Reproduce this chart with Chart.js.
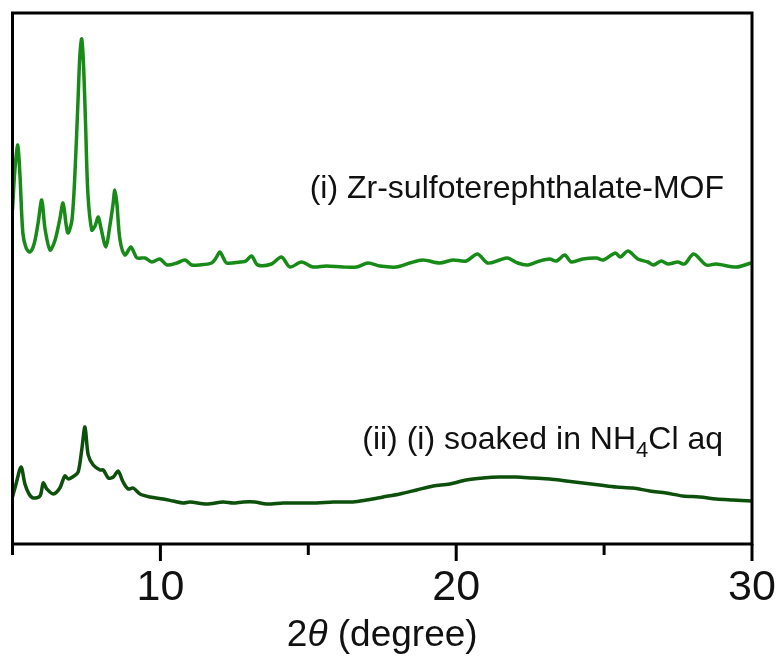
<!DOCTYPE html>
<html>
<head>
  <title>XRD patterns</title>
  <style>
      body {
          margin: 0;
          padding: 0;
          background: #ffffff;
      }
      #wrap {
          width: 780px;
          height: 661px;
      }
  </style>
</head>
<body>
  <div id="wrap"><canvas id="xrdChart" width="780" height="661"></canvas></div>
  <script src="https://cdn.jsdelivr.net/npm/chart.js"></script>
  <script>
      // 2theta (degree) and intensity (arb. units)
      const mofTheta = [5.00, 5.08, 5.18, 5.25, 5.35, 5.46, 5.59, 5.73, 5.86, 5.99, 6.10, 6.27, 6.44, 6.60, 6.71, 6.81, 6.88, 7.01, 7.11, 7.21, 7.28, 7.34, 7.40, 7.47, 7.55, 7.68, 7.79, 7.90, 7.99, 8.16, 8.29, 8.40, 8.46, 8.53, 8.63, 8.80, 9.00, 9.10, 9.21, 9.48, 9.71, 9.98, 10.22, 10.56, 10.83, 11.06, 11.33, 11.73, 11.88, 12.01, 12.13, 12.24, 12.69, 12.89, 13.08, 13.29, 13.76, 14.09, 14.38, 14.77, 15.15, 15.61, 16.17, 16.63, 17.02, 17.42, 17.98, 18.43, 18.87, 19.44, 19.88, 20.34, 20.72, 21.06, 21.47, 21.74, 22.08, 22.42, 22.82, 23.16, 23.39, 23.67, 23.89, 24.28, 24.74, 24.98, 25.38, 25.55, 25.81, 26.14, 26.48, 26.67, 26.93, 27.16, 27.49, 27.72, 28.03, 28.45, 28.79, 29.47, 29.97];
      const mofCounts = [334, 374, 399, 370, 311, 296, 292, 300, 320, 344, 315, 294, 304, 325, 341, 320, 311, 324, 370, 440, 490, 505, 480, 420, 350, 314, 318, 327, 316, 297, 318, 340, 354, 340, 305, 289, 297, 292, 286, 286, 282, 285, 279, 281, 284, 279, 279, 281, 286, 292, 286, 281, 282, 283, 288, 279, 280, 287, 277, 282, 277, 278, 277, 277, 281, 278, 277, 281, 284, 281, 284, 283, 290, 281, 284, 286, 281, 279, 283, 285, 283, 289, 282, 285, 286, 284, 291, 287, 293, 285, 282, 279, 283, 280, 282, 280, 290, 279, 280, 277, 281];

      const soakTheta = [5.00, 5.12, 5.29, 5.42, 5.56, 5.70, 5.93, 6.04, 6.16, 6.38, 6.60, 6.77, 6.89, 7.08, 7.22, 7.34, 7.45, 7.56, 7.73, 7.96, 8.07, 8.24, 8.41, 8.57, 8.74, 8.91, 9.08, 9.31, 9.65, 10.09, 10.43, 10.77, 11.00, 11.56, 12.12, 12.46, 12.80, 13.19, 13.59, 14.15, 14.71, 15.28, 15.84, 16.51, 16.97, 17.53, 18.09, 18.66, 19.22, 19.78, 20.34, 20.91, 21.47, 22.03, 22.59, 23.16, 23.72, 24.28, 24.85, 25.41, 25.97, 26.54, 27.10, 27.66, 28.23, 28.79, 29.35, 29.97];
      const soakCounts = [47, 60, 77, 60, 50, 46, 48, 61, 55, 50, 56, 68, 65, 68, 72, 94, 117, 89, 79, 74, 74, 66, 67, 73, 62, 55, 56, 50, 47, 45, 43, 41, 42, 40, 42, 41, 42, 42, 40, 41, 41, 41, 42, 42, 44, 47, 50, 54, 58, 60, 64, 66, 67, 67, 66, 65, 63, 61, 59, 57, 56, 53, 51, 48, 47, 45, 44, 43];

      const majorTicks = [10, 20, 30];
      const minorTicks = [5, 15, 25];

      function toPoints(xs, ys) {
          return xs.map((x, i) => ({ x: x, y: ys[i] }));
      }

      // frame, tick marks + labels, series labels and axis title
      const decorations = {
          id: 'decorations',
          afterDraw(chart) {
              const ctx = chart.ctx;
              const a = chart.chartArea;
              const xs = chart.scales.x;
              ctx.save();
              ctx.strokeStyle = '#000';
              ctx.lineWidth = 3;
              ctx.strokeRect(a.left, a.top, a.right - a.left, a.bottom - a.top);

              ctx.lineCap = 'butt';
              majorTicks.concat(minorTicks).forEach(v => {
                  const px = xs.getPixelForValue(v);
                  const len = majorTicks.includes(v) ? 17 : 11;
                  ctx.beginPath();
                  ctx.moveTo(px, a.bottom);
                  ctx.lineTo(px, a.bottom + len);
                  ctx.stroke();
              });

              ctx.fillStyle = '#111';
              ctx.textBaseline = 'alphabetic';
              ctx.textAlign = 'center';
              ctx.font = '43px "Liberation Sans", Arial, sans-serif';
              majorTicks.forEach(v => {
                  ctx.fillText(String(v), xs.getPixelForValue(v), 600);
              });

              ctx.font = '32px "Liberation Sans", Arial, sans-serif';
              ctx.textAlign = 'right';
              ctx.fillText('(i) Zr-sulfoterephthalate-MOF', 724, 198);

              // (ii) label with subscript
              ctx.textAlign = 'left';
              const partA = '(ii) (i) soaked in NH';
              const partB = '4';
              const partC = 'Cl aq';
              const big = '32px "Liberation Sans", Arial, sans-serif';
              const small = '22px "Liberation Sans", Arial, sans-serif';
              ctx.font = big;
              const wA = ctx.measureText(partA).width;
              const wC = ctx.measureText(partC).width;
              ctx.font = small;
              const wB = ctx.measureText(partB).width;
              let x0 = 723 - (wA + wB + wC);
              ctx.font = big;
              ctx.fillText(partA, x0, 449);
              ctx.font = small;
              ctx.fillText(partB, x0 + wA, 457);
              ctx.font = big;
              ctx.fillText(partC, x0 + wA + wB, 449);

              // axis title: 2θ (degree)
              const f1 = '37px "Liberation Sans", Arial, sans-serif';
              const f2 = 'italic 37px "Liberation Sans", Arial, sans-serif';
              ctx.font = f1;
              const w1 = ctx.measureText('2').width;
              const w3 = ctx.measureText(' (degree)').width;
              ctx.font = f2;
              const w2 = ctx.measureText('θ').width;
              let tx = (a.left + a.right) / 2 - (w1 + w2 + w3) / 2;
              ctx.font = f1;
              ctx.fillText('2', tx, 646);
              ctx.font = f2;
              ctx.fillText('θ', tx + w1, 646);
              ctx.font = f1;
              ctx.fillText(' (degree)', tx + w1 + w2, 646);
              ctx.restore();
          }
      };

      const ctx = document.getElementById('xrdChart').getContext('2d');
      const xrdChart = new Chart(ctx, {
          type: 'line',
          data: {
              datasets: [
                  {
                      label: '(i) Zr-sulfoterephthalate-MOF',
                      data: toPoints(mofTheta, mofCounts),
                      borderColor: '#178a17',
                      borderWidth: 3.5,
                      pointRadius: 0,
                      tension: 0.3,
                      fill: false
                  },
                  {
                      label: '(ii) (i) soaked in NH4Cl aq',
                      data: toPoints(soakTheta, soakCounts),
                      borderColor: '#0c500c',
                      borderWidth: 3.5,
                      pointRadius: 0,
                      tension: 0.3,
                      fill: false
                  }
              ]
          },
          options: {
              responsive: false,
              animation: false,
              layout: {
                  padding: { left: 12.5, right: 28, top: 13, bottom: 117 }
              },
              plugins: {
                  legend: { display: false },
                  tooltip: { enabled: false }
              },
              scales: {
                  x: {
                      type: 'linear',
                      min: 5,
                      max: 30,
                      grid: { display: false, drawTicks: false },
                      border: { display: false },
                      ticks: { display: false }
                  },
                  y: {
                      display: false,
                      min: 0,
                      max: 531
                  }
              }
          },
          plugins: [decorations]
      });
  </script>
</body>
</html>
